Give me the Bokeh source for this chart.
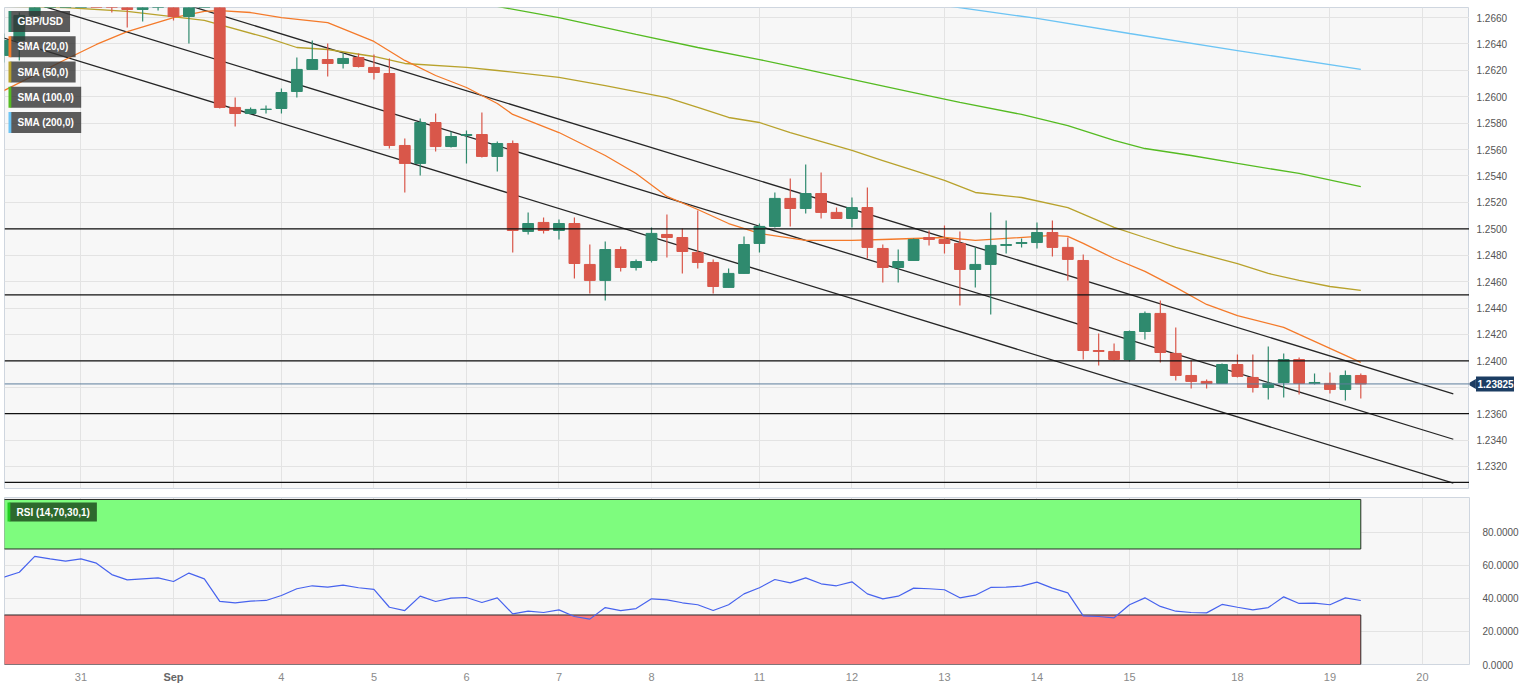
import math
from bokeh.plotting import figure
from bokeh.models import ColumnDataSource, FixedTicker, Span, Label, PrintfTickFormatter, Range1d
from bokeh.layouts import column, row
from bokeh.embed import file_html
from bokeh.resources import INLINE
from bokeh.core.properties import value

# ---------------- data (4-hour candles, index 0 = Sep 1 00:00) ----------------
candle_idx = list(range(-11, 78))

opens = [1.26313, 1.26426, 1.26616, 1.2680, 1.2692, 1.2700, 1.2706, 1.2694, 1.2680, 1.26661,
         1.26690, 1.2672, 1.26608, 1.2670, 1.2710, 1.25919, 1.25873, 1.25904, 1.25911, 1.26040,
         1.26207, 1.26282, 1.26252, 1.26297, 1.26222, 1.26176, 1.25631, 1.25495, 1.25805, 1.25623,
         1.25707, 1.25714, 1.25548, 1.25646, 1.24980, 1.25048, 1.24987, 1.25040, 1.24730, 1.24609,
         1.24843, 1.24707, 1.24760, 1.24957, 1.24934, 1.24821, 1.24745, 1.24556, 1.24662, 1.24889,
         1.25018, 1.25230, 1.25154, 1.25267, 1.25124, 1.25078, 1.25161, 1.24851, 1.24707, 1.24760,
         1.24934, 1.24919, 1.24889, 1.24692, 1.24730, 1.24874, 1.24889, 1.24896, 1.24972, 1.24859,
         1.24760, 1.24078, 1.24071, 1.24010, 1.24222, 1.24359, 1.24056, 1.23889, 1.23844, 1.23829,
         1.23972, 1.23874, 1.23798, 1.23836, 1.24010, 1.23829, 1.23829, 1.23783, 1.23889]
highs = [1.26479, 1.26638, 1.2690, 1.2698, 1.2705, 1.2712, 1.2718, 1.2700, 1.2684, 1.2676,
         1.2675, 1.2680, 1.2675, 1.2715, 1.2746, 1.25994, 1.25919, 1.25934, 1.26063, 1.26297,
         1.26426, 1.26403, 1.26328, 1.26328, 1.26320, 1.26290, 1.25684, 1.25835, 1.25873, 1.25737,
         1.25745, 1.25881, 1.25661, 1.25669, 1.25124, 1.25086, 1.25071, 1.25086, 1.24881, 1.24904,
         1.24866, 1.24768, 1.25010, 1.25108, 1.25002, 1.25139, 1.24768, 1.24699, 1.24942, 1.25040,
         1.25275, 1.25381, 1.25487, 1.25426, 1.25161, 1.25237, 1.25313, 1.24881, 1.24843, 1.24927,
         1.24987, 1.25025, 1.24980, 1.24859, 1.25124, 1.25063, 1.24927, 1.25048, 1.25063, 1.24934,
         1.24806, 1.24207, 1.24131, 1.24230, 1.24374, 1.24457, 1.24253, 1.24003, 1.23859, 1.23980,
         1.24048, 1.24048, 1.24109, 1.24056, 1.24025, 1.23904, 1.23912, 1.23927, 1.23904]
lows = [1.26260, 1.26275, 1.26562, 1.2676, 1.2685, 1.2693, 1.2688, 1.26638, 1.26525, 1.26570,
        1.26653, 1.26578, 1.26403, 1.26685, 1.25911, 1.25775, 1.25873, 1.25873, 1.25873, 1.25994,
        1.26207, 1.26153, 1.26214, 1.26222, 1.26131, 1.25608, 1.25275, 1.25404, 1.25586, 1.25616,
        1.25495, 1.25540, 1.25434, 1.24821, 1.24957, 1.24965, 1.24919, 1.24624, 1.24510, 1.24457,
        1.24677, 1.24684, 1.24745, 1.24783, 1.24662, 1.24699, 1.24510, 1.24556, 1.24662, 1.24821,
        1.25010, 1.25018, 1.25116, 1.25078, 1.25078, 1.25010, 1.24775, 1.24593, 1.24593, 1.24760,
        1.24874, 1.24813, 1.24419, 1.24556, 1.24351, 1.24813, 1.24859, 1.24851, 1.24790, 1.24609,
        1.24010, 1.23965, 1.24003, 1.23995, 1.24162, 1.23988, 1.23851, 1.23791, 1.23791, 1.23829,
        1.23874, 1.23760, 1.23707, 1.23723, 1.23745, 1.23821, 1.23753, 1.23700, 1.23715]
closes = [1.26426, 1.26616, 1.2680, 1.2692, 1.2700, 1.2706, 1.2694, 1.2680, 1.26661, 1.2671,
          1.26695, 1.26608, 1.2670, 1.2710, 1.25919, 1.25873, 1.25904, 1.25906, 1.26032, 1.26207,
          1.26282, 1.26252, 1.26290, 1.26229, 1.26184, 1.25631, 1.25495, 1.25805, 1.25623, 1.25699,
          1.25714, 1.25548, 1.25646, 1.24987, 1.25040, 1.24987, 1.25040, 1.24737, 1.24609, 1.24843,
          1.24707, 1.24752, 1.24965, 1.24934, 1.24828, 1.24745, 1.24563, 1.24662, 1.24881, 1.25018,
          1.25230, 1.25154, 1.25267, 1.25124, 1.25078, 1.25161, 1.24859, 1.24707, 1.24752, 1.24919,
          1.24919, 1.24889, 1.24692, 1.24730, 1.24874, 1.24881, 1.24896, 1.24972, 1.24859, 1.24768,
          1.24078, 1.24071, 1.24010, 1.24222, 1.24359, 1.24063, 1.23889, 1.23844, 1.23829, 1.23972,
          1.23882, 1.23798, 1.23829, 1.24010, 1.23829, 1.23836, 1.23783, 1.23889, 1.23825]

rsi = [52.9, 55.9, 65.5, 64.0, 62.6, 64.0, 61.4, 54.5, 51.3, 51.9,
       52.5, 50.3, 55.4, 51.9, 38.2, 37.4, 38.4, 38.8, 41.8, 45.9,
       47.7, 46.9, 48.1, 46.5, 45.5, 34.7, 32.7, 41.4, 38.2, 40.2,
       40.6, 37.6, 40.4, 30.7, 32.3, 31.5, 33.1, 29.1, 27.5, 34.5,
       32.7, 33.9, 39.8, 39.2, 37.4, 36.2, 32.7, 36.2, 42.8, 46.5,
       51.5, 49.5, 52.5, 48.9, 47.7, 50.1, 42.8, 39.8, 41.4, 46.3,
       45.9, 45.3, 40.4, 42.0, 46.7, 46.9, 47.5, 49.9, 46.3, 43.4,
       29.5, 29.1, 28.3, 36.2, 40.4, 35.2, 32.3, 31.5, 31.3, 36.4,
       34.7, 33.1, 34.5, 41.0, 37.0, 37.2, 36.2, 40.4, 38.8]

sma20_idx = [-11, -7, -5, -3, 0, 2, 3, 5, 7, 10, 13, 15, 17, 19, 21, 22, 25, 28, 30, 32,
             34, 36, 38, 41, 44, 46, 50, 52, 54, 57, 58, 59, 61, 63, 65, 67, 69, 72, 74, 75, 77]
sma20_val = [1.26047, 1.26282, 1.26396, 1.26494, 1.26600, 1.26646, 1.26653, 1.26638, 1.26600, 1.26562,
             1.26419, 1.26275, 1.26161, 1.26070, 1.25949, 1.25866, 1.25729, 1.25555, 1.25419, 1.25245,
             1.25146, 1.25040, 1.24965, 1.24912, 1.24912, 1.24919, 1.24934, 1.24912, 1.24927, 1.24950,
             1.24942, 1.24889, 1.24775, 1.24677, 1.24556, 1.24427, 1.24343, 1.24253, 1.24147, 1.24094,
             1.23988]
sma50_idx = [-11, -7, -3, 2, 6, 8, 10, 13, 15, 19, 21, 25, 28, 32, 34, 36, 38, 40, 44, 46,
             48, 50, 52, 55, 58, 61, 63, 65, 69, 71, 73, 75, 77]
sma50_val = [1.26684, 1.26676, 1.26646, 1.26578, 1.26449, 1.26373, 1.26358, 1.26305, 1.26252, 1.26222,
             1.26199, 1.26146, 1.26085, 1.25994, 1.25919, 1.25843, 1.25805, 1.25729, 1.25593, 1.25517,
             1.25442, 1.25366, 1.25275, 1.25237, 1.25161, 1.25010, 1.24934, 1.24859, 1.24737, 1.24662,
             1.24609, 1.24563, 1.24533]
sma100_idx = [19, 21, 25, 30, 34, 38, 41, 44, 48, 51, 55, 58, 61, 63, 66, 69, 73, 77]
sma100_val = [1.26721, 1.26684, 1.26600, 1.26472, 1.26373, 1.26282, 1.26207, 1.26131, 1.26032, 1.25957,
              1.25866, 1.25782, 1.25669, 1.25608, 1.25555, 1.25495, 1.25419, 1.25320]
sma200_idx = [49, 50, 56, 62, 69, 77]
sma200_val = [1.26706, 1.26691, 1.26593, 1.26479, 1.26350, 1.26207]

channel_idx = [-11, 83]
channel_upper = [1.27121, 1.23750]
channel_middle = [1.26777, 1.23406]
channel_lower = [1.26444, 1.23073]

levels = [1.2500, 1.2450, 1.2400, 1.2360, 1.2308]

tick_idx = [-6, 0, 7, 13, 19, 25, 31, 38, 44, 50, 56, 62, 69, 75, 81]
tick_labels = ["31", "Sep", "4", "5", "6", "7", "8", "11", "12", "13", "14", "15", "18", "19", "20"]
month_labels = ["Sep"]
price_ticks = [1.2320, 1.2340, 1.2360, 1.2380, 1.2400, 1.2420, 1.2440, 1.2460, 1.2480,
               1.2500, 1.2520, 1.2540, 1.2560, 1.2580, 1.2600, 1.2620, 1.2640, 1.2660]
rsi_ticks = [0, 20, 40, 60, 80]
rsi_bands = [(70, 100, "#7efc7e"), (0, 30, "#fc7b7b")]

legend_items = [("GBP/USD", "#2f8a6e"), ("SMA (20,0)", "#f47a2a"), ("SMA (50,0)", "#b8a22c"),
                ("SMA (100,0)", "#55bb22"), ("SMA (200,0)", "#6cc4f4")]

n = len(candle_idx)
assert len(opens) == n and len(highs) == n and len(lows) == n and len(closes) == n and len(rsi) == n
assert len(sma20_idx) == len(sma20_val) and len(sma50_idx) == len(sma50_val)

UP, DOWN = "#2f8a6e", "#d9574a"
TAG = "#1c3d63"
FONT = "Liberation Sans"
FW = 1465

src = ColumnDataSource(dict(
    x=candle_idx, high=highs, low=lows,
    top=[max(o, c) for o, c in zip(opens, closes)],
    bottom=[min(o, c) for o, c in zip(opens, closes)],
    color=[UP if c >= o else DOWN for o, c in zip(opens, closes)],
))

xr = Range1d(-10.96, 84.05)
main_yr = Range1d(1.23033, 1.26676)

# ---------------- main price chart ----------------
p = figure(frame_width=FW, frame_height=481, x_range=xr, y_range=main_yr,
           y_axis_location=None, x_axis_location=None, toolbar_location=None,
           output_backend="svg", min_border_left=4, min_border_top=7, min_border_bottom=4,
           min_border_right=0, background_fill_color="#f7f7f7", border_fill_color="white",
           outline_line_color="#cfd6df")
p.xgrid.ticker = FixedTicker(ticks=tick_idx)
p.ygrid.ticker = FixedTicker(ticks=price_ticks)
p.grid.grid_line_color = "#e3e3e3"

for v in levels:
    p.add_layout(Span(location=v, dimension="width", line_color="#111111", line_width=1.3))
p.add_layout(Span(location=closes[-1], dimension="width", line_color="#5d7d9c", line_width=1))

for vals in (channel_upper, channel_middle, channel_lower):
    p.line(channel_idx, vals, line_color="#262626", line_width=1.3)

p.line(sma200_idx, sma200_val, line_color="#6cc4f4", line_width=1.3)
p.line(sma100_idx, sma100_val, line_color="#55bb22", line_width=1.3)
p.line(sma50_idx, sma50_val, line_color="#b8a22c", line_width=1.3)
p.line(sma20_idx, sma20_val, line_color="#f47a2a", line_width=1.3)

p.segment(x0="x", y0="low", x1="x", y1="high", line_color="color", line_width=1.2, source=src)
p.vbar(x="x", width=0.7, top="top", bottom="bottom", fill_color="color", line_color="color",
       line_width=1, source=src)

for k, (name, col) in enumerate(legend_items):
    yy = 467 - k * 25.25
    p.add_layout(Label(x=6, y=yy, x_units="screen", y_units="screen", text=name,
                       text_font=FONT, text_font_size="10px", text_font_style="bold",
                       text_color="white", text_baseline="middle", text_align="left",
                       background_fill_color="#333333", background_fill_alpha=0.8,
                       padding=(7, 5)))
    p.add_layout(Label(x=4, y=yy, x_units="screen", y_units="screen", text="\u200a",
                       text_font=FONT, text_font_size="10px", text_baseline="middle",
                       background_fill_color=col, background_fill_alpha=1.0, padding=(1, 5)))

# right-hand price scale strip (shares the price range)
ps = figure(frame_width=67, frame_height=481, x_range=Range1d(0, 67), y_range=main_yr,
            x_axis_location=None, y_axis_location=None, toolbar_location=None,
            output_backend="svg", min_border_left=0, min_border_right=0, min_border_top=7,
            min_border_bottom=4, background_fill_color="white", border_fill_color="white",
            outline_line_color=None)
ps.grid.visible = False
ps.text(x=[7] * len(price_ticks), y=price_ticks, text=[f"{v:.4f}" for v in price_ticks],
        text_font=value(FONT), text_font_size="10px", text_color="#555555",
        text_baseline="middle", text_align="left")
ps.rect(x=[25.5], y=[closes[-1]], width=38, height=15, height_units="screen",
        fill_color=TAG, line_color=None)
ps.scatter(x=[3.5], y=[closes[-1]], marker="triangle", size=10, angle=math.pi / 2,
           fill_color=TAG, line_color=None)
ps.text(x=[8], y=[closes[-1]], text=[f"{closes[-1]:.5f}"], text_font=value(FONT),
        text_font_size="10px", text_font_style="bold", text_color="white",
        text_baseline="middle", text_align="left")

# ---------------- RSI panel ----------------
r = figure(frame_width=FW, frame_height=167, x_range=xr, y_range=Range1d(0, 101.2),
           y_axis_location="right", x_axis_location=None, toolbar_location=None,
           output_backend="svg", min_border_left=4, min_border_top=5, min_border_bottom=6,
           min_border_right=10, background_fill_color="#f7f7f7", border_fill_color="white",
           outline_line_color="#cfd6df")
r.yaxis.ticker = FixedTicker(ticks=rsi_ticks)
r.yaxis.formatter = PrintfTickFormatter(format="%.4f")
r.yaxis.axis_line_color = None
r.yaxis.major_tick_line_color = None
r.yaxis.minor_tick_line_color = None
r.yaxis.major_label_text_font = FONT
r.yaxis.major_label_text_font_size = "10px"
r.yaxis.major_label_text_color = "#555555"
r.yaxis.major_label_standoff = 7
r.xgrid.ticker = FixedTicker(ticks=tick_idx)
r.grid.grid_line_color = "#e3e3e3"

for lo, hi, col in rsi_bands:
    r.quad(left=[candle_idx[0]], right=[candle_idx[-1]], bottom=[lo], top=[hi],
           fill_color=col, line_color="#2a2a2a", line_width=1)
r.line(candle_idx, rsi, line_color="#4763ee", line_width=1.2)

r.add_layout(Label(x=5, y=152.5, x_units="screen", y_units="screen", text="RSI (14,70,30,1)",
                   text_font=FONT, text_font_size="10px", text_font_style="bold",
                   text_color="white", text_baseline="middle", text_align="left",
                   background_fill_color="#1f4f1f", background_fill_alpha=0.85, padding=(7, 4)))
r.add_layout(Label(x=3, y=152.5, x_units="screen", y_units="screen", text="\u200a",
                   text_font=FONT, text_font_size="10px", text_baseline="middle",
                   background_fill_color="#22cc22", padding=(1, 4)))

# ---------------- date scale strip ----------------
xs = figure(frame_width=FW, frame_height=16, x_range=xr, y_range=Range1d(0, 1),
            x_axis_location=None, y_axis_location=None, toolbar_location=None,
            output_backend="svg", min_border_left=4, min_border_right=0, min_border_top=0,
            min_border_bottom=0, background_fill_color="white", border_fill_color="white",
            outline_line_color=None)
xs.grid.visible = False
day_t = [t for t, lab in zip(tick_idx, tick_labels) if lab not in month_labels]
day_l = [lab for lab in tick_labels if lab not in month_labels]
mon_t = [t for t, lab in zip(tick_idx, tick_labels) if lab in month_labels]
mon_l = [lab for lab in tick_labels if lab in month_labels]
xs.text(x=day_t, y=[0.6] * len(day_t), text=day_l, text_font=value(FONT),
        text_font_size="11px", text_color="#8a8a8a", text_align="center", text_baseline="middle")
xs.text(x=mon_t, y=[0.6] * len(mon_t), text=mon_l, text_font=value(FONT),
        text_font_size="11px", text_font_style="bold", text_color="#666666",
        text_align="center", text_baseline="middle")

layout = column(row(p, ps), r, xs)
open("out.html", "w").write(file_html(layout, INLINE))
